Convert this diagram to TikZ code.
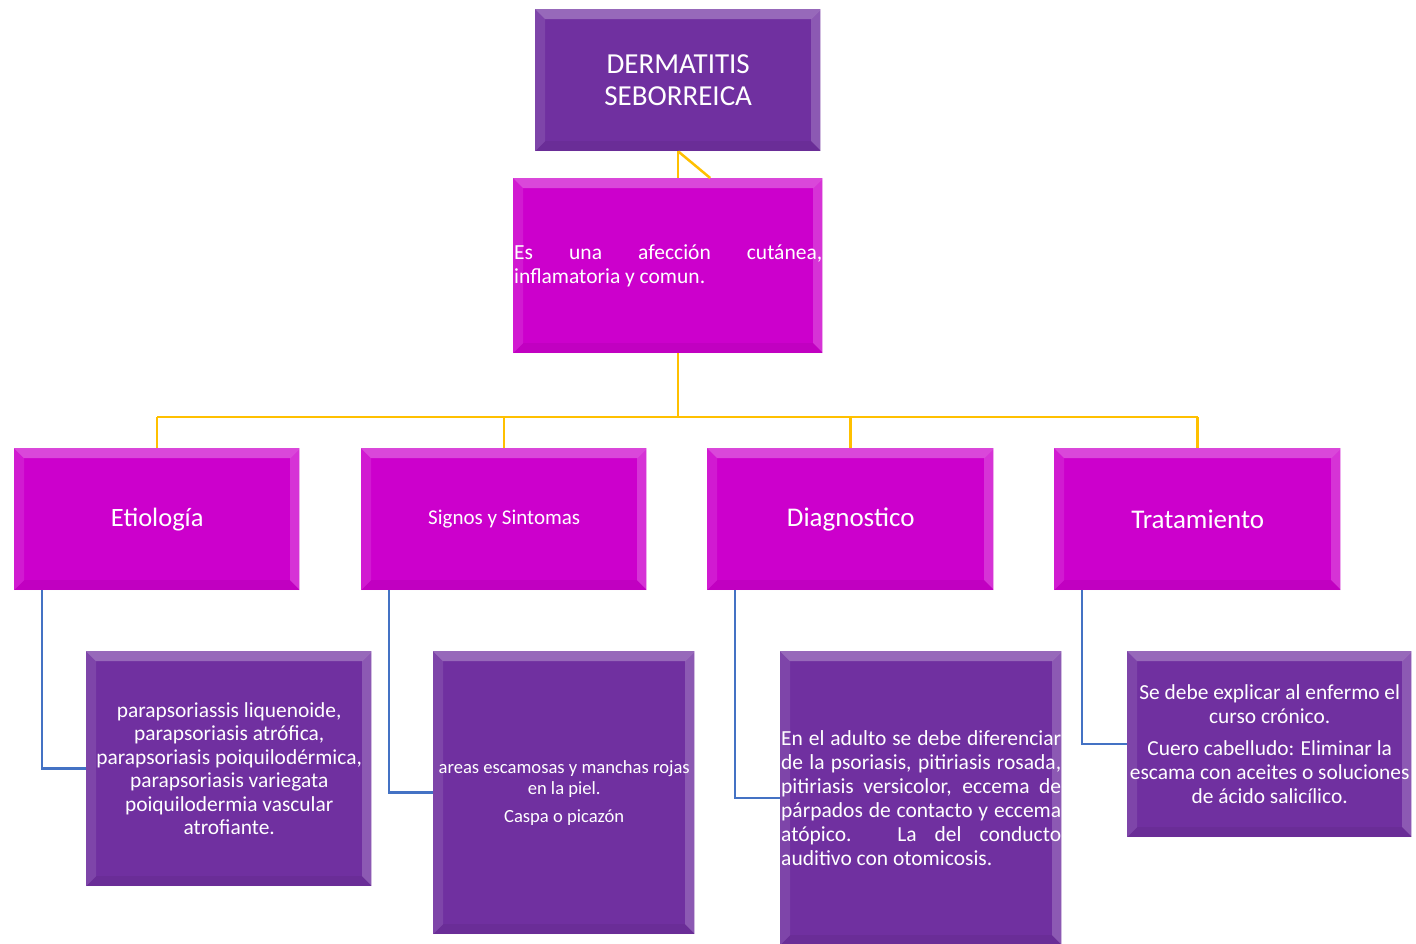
\documentclass[tikz,border=0pt]{standalone}
\usepackage{fontspec}
\setmainfont{Carlito}
\usetikzlibrary{positioning}
\definecolor{morado}{HTML}{7030A0}
\definecolor{fucsia}{HTML}{CC00CC}
\definecolor{naranja}{HTML}{FFC000}
\definecolor{azul}{HTML}{4472C4}
\tikzset{
  bisel/.style={path picture={
    \fill[white,opacity=.28] (path picture bounding box.north west) -- (path picture bounding box.north east)
      -- ([shift={(-10,10)}]path picture bounding box.north east) -- ([shift={(10,10)}]path picture bounding box.north west) -- cycle;
    \fill[white,opacity=.1] (path picture bounding box.north west) -- ([shift={(10,10)}]path picture bounding box.north west)
      -- ([shift={(10,-10)}]path picture bounding box.south west) -- (path picture bounding box.south west) -- cycle;
    \fill[white,opacity=.2] (path picture bounding box.north east) -- ([shift={(-10,10)}]path picture bounding box.north east)
      -- ([shift={(-10,-10)}]path picture bounding box.south east) -- (path picture bounding box.south east) -- cycle;
    \fill[black,opacity=.05] (path picture bounding box.south west) -- ([shift={(10,-10)}]path picture bounding box.south west)
      -- ([shift={(-10,-10)}]path picture bounding box.south east) -- (path picture bounding box.south east) -- cycle;
    \draw[white,opacity=.6,line width=1.5] (path picture bounding box.north east) -- (path picture bounding box.south east);
  }},
  caja/.style={inner sep=0pt, text=white, anchor=north west, bisel},
  cajamorada/.style={caja, fill=morado},
  cajafucsia/.style={caja, fill=fucsia},
  rama/.style={naranja, line width=2.5},
  hoja/.style={azul, line width=2.5},
}
\begin{document}
\begin{tikzpicture}[x=1pt,y=-1pt]
  \useasboundingbox[fill=white] (0,0) rectangle (1416,943);
  % cabecera
  \node[cajamorada, minimum width=286, minimum height=142, align=center,
    font=\fontsize{29}{32}\selectfont] (titulo) at (535,9) {DERMATITIS\\SEBORREICA};
  \node[cajafucsia, minimum width=310, minimum height=175, text width=308, inner xsep=1, align=justify,
    font=\fontsize{21.5}{24}\selectfont] (desc) at (513,178) {Es una afección cutánea,\linebreak inflamatoria y comun.};
  % segundo nivel
  \node[cajafucsia, minimum width=286, minimum height=142, font=\fontsize{26.5}{29}\selectfont] (etio) at (14,448) {Etiología};
  \node[cajafucsia, minimum width=286, minimum height=142, font=\fontsize{21}{24}\selectfont] (signos) at (361,448) {Signos y Sintomas};
  \node[cajafucsia, minimum width=287, minimum height=142, font=\fontsize{27}{29}\selectfont] (diag) at (707,448) {Diagnostico};
  \node[cajafucsia, minimum width=287, minimum height=142, font=\fontsize{27}{29}\selectfont] (trat) at (1054,448) {Tratamiento};
  % tercer nivel
  \node[cajamorada, minimum width=286, minimum height=235, align=center,
    font=\fontsize{21.4}{23.5}\selectfont] (etioh) at (86,651)
    {parapsoriassis liquenoide,\\parapsoriasis atrófica,\\parapsoriasis poiquilodérmica,\\parapsoriasis variegata\\poiquilodermia vascular\\atrofiante.};
  \node[cajamorada, minimum width=262, minimum height=283, align=center,
    font=\fontsize{18.6}{21}\selectfont] (signosh) at (433,651)
    {areas escamosas y manchas rojas\\en la piel.\\[7pt]Caspa o picazón};
  \node[cajamorada, minimum width=281, minimum height=294, text width=280, inner xsep=1, align=justify,
    font=\fontsize{21.5}{24}\selectfont] (diagh) at (780,651)
    {En el adulto se debe diferenciar\linebreak de la psoriasis, pitiriasis rosada,\linebreak pitiriasis versicolor, eccema de\linebreak párpados de contacto y eccema\linebreak atópico. La del conducto\linebreak auditivo con otomicosis.};
  \node[cajamorada, minimum width=285, minimum height=186, align=center,
    font=\fontsize{21.4}{24}\selectfont] (trath) at (1127,651)
    {Se debe explicar al enfermo el\\curso crónico.\\[8pt]Cuero cabelludo: Eliminar la\\escama con aceites o soluciones\\de ácido salicílico.};
  % conectores
  \coordinate (bus) at (titulo.south |- 0,417);
  \draw[rama] (titulo.south) -- (titulo.south |- desc.north);
  \draw[rama] (titulo.south) -- ([xshift=32]titulo.south |- desc.north);
  \draw[rama] (titulo.south |- desc.south) -- (bus);
  \draw[rama] (etio.north |- bus) -- (trat.north |- bus);
  \foreach \n in {etio,signos,diag,trat}
    \draw[rama] (\n.north |- bus) -- (\n.north);
  \foreach \n in {etio,signos,diag,trat}
    \draw[hoja] ([xshift=28]\n.south west) |- (\n h.west);
\end{tikzpicture}
\end{document}
